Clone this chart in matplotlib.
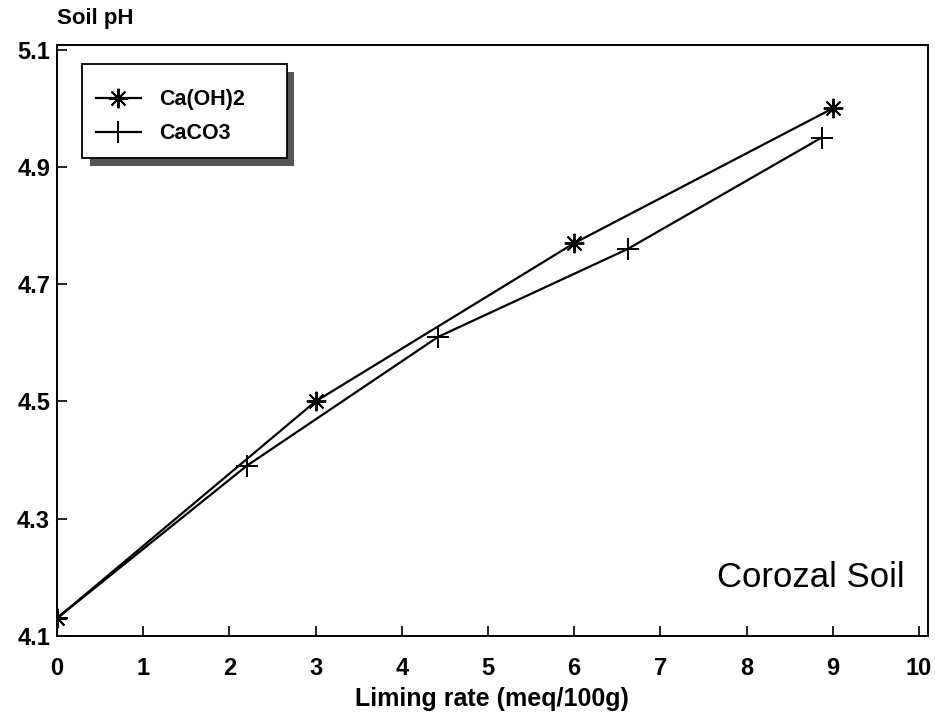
import matplotlib
matplotlib.use("Agg")
import matplotlib.pyplot as plt
from matplotlib.patches import Rectangle

plt.rcParams['font.family'] = ['Liberation Sans', 'DejaVu Sans']

# liming rate (meq/100g) and soil pH
lime_caoh2 = [0, 3, 6, 9]
ph_caoh2 = [4.13, 4.50, 4.77, 5.00]

lime_caco3 = [0, 2.2, 4.42, 6.62, 8.87]
ph_caco3 = [4.13, 4.39, 4.61, 4.76, 4.95]

x_ticks = [0, 1, 2, 3, 4, 5, 6, 7, 8, 9, 10]
y_ticks = [4.1, 4.3, 4.5, 4.7, 4.9, 5.1]

fig = plt.figure(figsize=(9.35, 7.16), dpi=100)
ax = fig.add_axes([0.061, 0.112, 0.931, 0.825])

ax.plot(lime_caoh2, ph_caoh2, color="black", linewidth=1.6,
        marker=(8, 2, 0), markersize=14, markeredgewidth=1.4, label="Ca(OH)2")
ax.plot(lime_caco3, ph_caco3, color="black", linewidth=1.6,
        marker="+", markersize=16, markeredgewidth=1.4, label="CaCO3")

ax.set_xlim(0, 10.1)
ax.set_ylim(4.1, 5.108)
ax.set_xticks(x_ticks)
ax.set_yticks(y_ticks)
ax.set_xticklabels([str(v) for v in x_ticks], fontsize=17, fontweight="bold")
ax.set_yticklabels([f"{v:.1f}" for v in y_ticks], fontsize=17, fontweight="bold")
ax.tick_params(direction="in", length=7, width=1.2, pad=5)
ax.tick_params(axis="x", pad=15)
for s in ax.spines.values():
    s.set_linewidth(1.4)

ax.set_xlabel("Liming rate (meq/100g)", fontsize=18, fontweight="bold", labelpad=5)
fig.text(0.061, 0.974, "Soil pH", fontsize=16, fontweight="bold", va="center", ha="left")

ax.text(0.974, 0.098, "Corozal Soil", transform=ax.transAxes, fontsize=25,
        ha="right", va="center")

# legend box with a dark drop shadow
bx, by, bw, bh = 0.0287, 0.809, 0.235, 0.159
ax.add_patch(Rectangle((bx + 0.009, by - 0.013), bw, bh, transform=ax.transAxes,
                       facecolor="#555555", edgecolor="none", zorder=4))
ax.add_patch(Rectangle((bx, by), bw, bh, transform=ax.transAxes,
                       facecolor="white", edgecolor="black", linewidth=1.3, zorder=5))
leg = ax.legend(loc="upper left", bbox_to_anchor=(0.022, 0.958),
                frameon=False, handlelength=2.1, handletextpad=0.85,
                labelspacing=0.6, prop={"size": 15.5, "weight": "bold"})
leg.set_zorder(6)

fig.savefig("out.png", dpi=100)
